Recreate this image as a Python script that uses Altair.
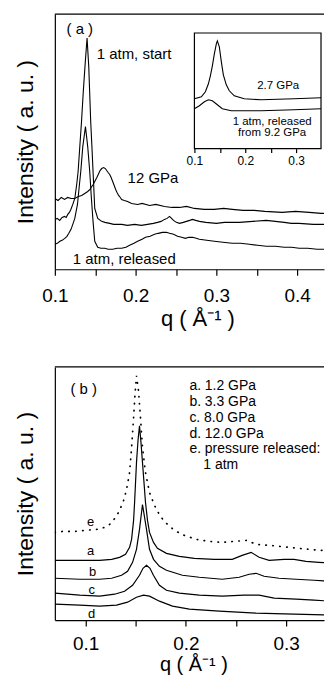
import altair as alt
import pandas as pd

# ---------------- panel (a) : main curves ----------------
A_X_DOMAIN = [0.1, 0.4333]
A_Y_DOMAIN = [0, 256]
A_TICKS = [0.1, 0.15, 0.2, 0.25, 0.3, 0.35, 0.4]

a12_q = [0.100, 0.104, 0.108, 0.112, 0.116, 0.120, 0.1247, 0.129, 0.1333, 0.137,
         0.1407, 0.1435, 0.1457, 0.1475, 0.1494, 0.152, 0.1543, 0.156, 0.158, 0.1605,
         0.1625, 0.1642, 0.166, 0.1679, 0.1697, 0.1716, 0.1735, 0.1753, 0.177, 0.179,
         0.181, 0.1827, 0.186, 0.1901, 0.195, 0.2025, 0.208, 0.2173, 0.225, 0.2358,
         0.245, 0.2543, 0.263, 0.2728, 0.285, 0.2975, 0.309, 0.3198, 0.333, 0.3469,
         0.36, 0.3815, 0.398, 0.4148, 0.43, 0.4432]
a12_i = [71, 69, 72, 70, 72, 71, 71, 73, 74, 76,
         78, 80, 83, 85, 88, 92, 96, 99, 101, 102,
         101, 99, 97, 95, 92, 88, 84, 80, 77, 74,
         72, 70, 69, 68, 66, 65, 66, 64, 65, 63,
         62, 62, 63, 61, 60, 60, 61, 60, 59, 59,
         58, 57, 58, 57, 56, 56]

astart_q = [0.100, 0.103, 0.106, 0.109, 0.112, 0.114, 0.116, 0.118, 0.1198, 0.1222,
            0.1247, 0.1272, 0.1288, 0.1309, 0.133, 0.1352, 0.1377, 0.1399, 0.142, 0.1444,
            0.1459, 0.1473, 0.1494, 0.1531, 0.158, 0.162, 0.1679, 0.173, 0.1827, 0.19,
            0.1988, 0.207, 0.2148, 0.222, 0.2272, 0.2315, 0.2358, 0.239, 0.242, 0.2445,
            0.2469, 0.2505, 0.2543, 0.259, 0.263, 0.267, 0.2704, 0.2745, 0.279, 0.287,
            0.3, 0.31, 0.3284, 0.345, 0.3617, 0.373, 0.384, 0.393, 0.4025, 0.42,
            0.4432]
astart_i = [50, 51, 49, 52, 53, 52, 55, 57, 60, 65,
            71, 86, 98, 123, 148, 178, 208, 232, 203, 148,
            123, 98, 61, 51, 48, 47, 46, 45, 45, 44,
            45, 44, 45, 46, 47, 48, 50, 51, 53, 51,
            49, 47, 46, 47, 48, 49, 50, 49, 48, 47,
            46, 47, 47, 48, 49, 48, 47, 46, 46, 45,
            45]

arel_q = [0.100, 0.103, 0.1062, 0.109, 0.1123, 0.115, 0.1173, 0.120, 0.1222, 0.1247,
          0.128, 0.1302, 0.1321, 0.1346, 0.1379, 0.1407, 0.1432, 0.1451, 0.1473, 0.1494,
          0.1531, 0.157, 0.1617, 0.166, 0.1716, 0.177, 0.1827, 0.188, 0.1926, 0.198,
          0.2025, 0.208, 0.2123, 0.218, 0.2235, 0.228, 0.2333, 0.238, 0.242, 0.247,
          0.2519, 0.257, 0.2617, 0.266, 0.2704, 0.275, 0.279, 0.288, 0.2975, 0.308,
          0.3198, 0.33, 0.3407, 0.351, 0.3617, 0.373, 0.384, 0.393, 0.4025, 0.413,
          0.4247, 0.435, 0.4432]
arel_i = [25, 26, 28, 29, 31, 33, 36, 40, 45, 51,
          65, 83, 98, 123, 143, 123, 98, 73, 48, 28,
          22, 21, 21, 20, 20, 21, 21, 22, 24, 26,
          28, 30, 32, 33, 35, 36, 37, 37, 36, 35,
          33, 32, 31, 32, 32, 31, 30, 29, 28, 27,
          26, 26, 25, 24, 23, 23, 22, 22, 21, 21,
          20, 20, 19]

# ---------------- panel (a) : inset ----------------
IN_X_DOMAIN = [0.1, 0.349]
IN_Y_DOMAIN = [0, 116]
IN_TICKS = [0.1, 0.15, 0.2, 0.25, 0.3]

in27_q = [0.100, 0.1137, 0.1216, 0.1275, 0.1314, 0.1353, 0.1392, 0.1431, 0.1451, 0.149,
          0.153, 0.1569, 0.1627, 0.1686, 0.1784, 0.198, 0.2314, 0.2961, 0.349]
in27_i = [50, 52, 57, 65, 73, 83, 95, 105, 108, 102,
          87, 74, 64, 58, 53, 50, 49, 50, 51]
inrel_q = [0.100, 0.1098, 0.1196, 0.1275, 0.1353, 0.1451, 0.1549, 0.1725, 0.2314, 0.2961, 0.349]
inrel_i = [40, 43, 47, 49, 48, 44, 40, 38, 38, 39, 40]

# ---------------- panel (b) ----------------
B_X_DOMAIN = [0.0692, 0.3379]
B_Y_DOMAIN = [0, 254]
B_TICKS = [0.1, 0.15, 0.2, 0.25, 0.3]

be_q = [0.0692, 0.0771, 0.0891, 0.099, 0.1109, 0.1189, 0.1239, 0.1299, 0.1338, 0.1378,
        0.1408, 0.1438, 0.1458, 0.1478, 0.1493, 0.1507, 0.1527, 0.1547, 0.1567, 0.1597,
        0.1637, 0.1687, 0.1746, 0.1806, 0.1886, 0.1985, 0.2104, 0.2234, 0.2363, 0.2483,
        0.2612, 0.2701, 0.2831, 0.303, 0.3229, 0.3458]
be_i = [88, 89, 89, 90, 91, 93, 96, 103, 110, 120,
        131, 148, 173, 203, 228, 245, 230, 203, 173, 148,
        128, 115, 104, 97, 90, 85, 81, 79, 78, 79,
        80, 76, 75, 73, 71, 69]

ba_q = [0.0692, 0.094, 0.1139, 0.1259, 0.1338, 0.1398, 0.1438, 0.1458, 0.1478, 0.1488,
        0.1507, 0.1522, 0.1537, 0.1552, 0.1567, 0.1597, 0.1617, 0.1637, 0.1677, 0.1716,
        0.1806, 0.1935, 0.2085, 0.2284, 0.2463, 0.2562, 0.2652, 0.2731, 0.2831, 0.298,
        0.308, 0.3199, 0.3328, 0.3458]
ba_i = [60, 60, 60, 61, 63, 66, 73, 81, 100, 118,
        158, 180, 195, 178, 158, 118, 100, 88, 78, 72,
        67, 64, 62, 61, 61, 65, 68, 63, 60, 61,
        61, 59, 58, 57]

bb_q = [0.0692, 0.094, 0.1139, 0.1259, 0.1358, 0.1418, 0.1468, 0.1507, 0.1537, 0.1567,
        0.1607, 0.1637, 0.1677, 0.1736, 0.1806, 0.1965, 0.2134, 0.2363, 0.2532, 0.2632,
        0.2701, 0.2781, 0.293, 0.31, 0.3279, 0.3458]
bb_i = [42, 41, 41, 42, 45, 49, 58, 71, 91, 116,
        91, 71, 61, 54, 50, 45, 43, 41, 43, 46,
        47, 44, 42, 41, 40, 39]

bc_q = [0.0692, 0.094, 0.1139, 0.1289, 0.1388, 0.1468, 0.1537, 0.1572, 0.1607, 0.1642,
        0.1676, 0.1736, 0.1806, 0.1935, 0.2134, 0.2363, 0.2582, 0.2731, 0.2881, 0.31,
        0.3279, 0.3458]
bc_i = [27, 25, 24, 26, 29, 35, 45, 52, 55, 52,
        45, 35, 30, 27, 25, 24, 25, 25, 22, 21,
        20, 19]

bd_q = [0.0692, 0.094, 0.1139, 0.1308, 0.1418, 0.1507, 0.1577, 0.1637, 0.1736, 0.1866,
        0.2035, 0.2333, 0.2701, 0.308, 0.3458]
bd_i = [16, 15, 14, 15, 18, 23, 25, 24, 19, 14,
        11, 9, 7, 6, 5]

# ---------------- labels ----------------
a_lbl_left_t = ["1 atm, start", "12 GPa", "1 atm, released"]
a_lbl_left_q = [0.1519, 0.1901, 0.1222]
a_lbl_left_i = [216, 91, 10]
a_tag = ["( a )"]; a_tag_q = [0.1309]; a_tag_i = [241]

in_lbl_t = ["2.7 GPa", "1 atm, released", "from 9.2 GPa"]
in_lbl_q = [0.2647, 0.2529, 0.2529]
in_lbl_i = [63, 27, 16]

b_leg_t = ["a. 1.2 GPa", "b. 3.3 GPa", "c. 8.0 GPa", "d. 12.0 GPa",
           "e. pressure released:", "1 atm"]
b_leg_q = [0.2035, 0.2035, 0.2035, 0.2035, 0.2035, 0.2174]
b_leg_i = [235, 219, 203, 187, 172, 156]
b_tag = ["( b )"]; b_tag_q = [0.098]; b_tag_i = [232]
b_cur_t = ["e", "a", "b", "c", "d"]
b_cur_q = [0.105, 0.105, 0.107, 0.106, 0.106]
b_cur_i = [98, 69, 48, 30, 6]

W = 270
HA = 256
HB = 254
LBL = "abs(datum.value*10 - round(datum.value*10)) < 0.001 ? format(datum.value, '.1f') : ''"
XTITLE = "q ( \u00c5\u207b\u00b9 )"
YTITLE = "Intensity ( a. u. )"


def frame(qs, vals, name):
    return pd.DataFrame({"q": qs, "I": vals, "s": name})


def xenc(domain, ticks, label_pad, title_pad, title_size, title_x):
    return alt.X("q:Q", scale=alt.Scale(domain=domain, nice=False, zero=False),
                 axis=alt.Axis(values=ticks, labelExpr=LBL, title=XTITLE, tickSize=6,
                               labelPadding=label_pad, labelFontSize=19,
                               titleFontSize=title_size, titlePadding=title_pad,
                               titleX=title_x, grid=False, labelFlush=False))


def yenc(domain):
    return alt.Y("I:Q", scale=alt.Scale(domain=domain, nice=False, zero=False),
                 axis=alt.Axis(labels=False, ticks=False, title=YTITLE, titleFontSize=23,
                               titlePadding=17, grid=False))


def texts(ts, qs, vals, x, y, **kw):
    d = pd.DataFrame({"q": qs, "I": vals, "t": ts})
    return alt.Chart(d).mark_text(color="black", **kw).encode(x=x, y=y, text="t:N")


def top_rule(xdom, ydom, x, y):
    d = pd.DataFrame({"q": [xdom[0]], "q2": [xdom[1]], "I": [ydom[1]]})
    return alt.Chart(d).mark_rule(color="black", strokeWidth=1.2).encode(x=x, x2="q2:Q", y=y)


# ---- panel (a) ----
xa = xenc(A_X_DOMAIN, A_TICKS, 11, 3, 22, 143)
ya = yenc(A_Y_DOMAIN)
df_a = pd.concat([frame(a12_q, a12_i, "12 GPa"), frame(astart_q, astart_i, "start"),
                  frame(arel_q, arel_i, "released")])
lines_a = alt.Chart(df_a).mark_line(color="black", strokeWidth=1.1, clip=True).encode(
    x=xa, y=ya, detail="s:N")
main_a = alt.layer(
    top_rule(A_X_DOMAIN, A_Y_DOMAIN, xa, ya),
    lines_a,
    texts(a_lbl_left_t, a_lbl_left_q, a_lbl_left_i, xa, ya, align="left", baseline="middle", fontSize=15),
    texts(a_tag, a_tag_q, a_tag_i, xa, ya, align="center", baseline="middle", fontSize=15),
)

xi = alt.X("q:Q", scale=alt.Scale(domain=IN_X_DOMAIN, range=[140, 267], nice=False, zero=False),
           axis=alt.Axis(orient="bottom", offset=-121, values=IN_TICKS, labelExpr=LBL,
                         tickSize=4, labelPadding=3, labelFontSize=12, title=None,
                         grid=False, domain=False, labelFlush=False))
yi = alt.Y("I:Q", scale=alt.Scale(domain=IN_Y_DOMAIN, range=[135, 19], nice=False, zero=False),
           axis=None)
in_box = alt.Chart(pd.DataFrame({"q": [IN_X_DOMAIN[0]], "q2": [IN_X_DOMAIN[1]],
                                 "I": [IN_Y_DOMAIN[0]], "I2": [IN_Y_DOMAIN[1]]})).mark_rect(
    fill="white", stroke="black", strokeWidth=1.2).encode(x=xi, x2="q2:Q", y=yi, y2="I2:Q")
df_in = pd.concat([frame(in27_q, in27_i, "2.7"), frame(inrel_q, inrel_i, "rel")])
in_lines = alt.Chart(df_in).mark_line(color="black", strokeWidth=1.1).encode(x=xi, y=yi, detail="s:N")
inset = alt.layer(in_box, in_lines,
                  texts(in_lbl_t, in_lbl_q, in_lbl_i, xi, yi, align="center", baseline="middle", fontSize=11.5))

panel_a = alt.layer(main_a, inset).resolve_scale(x="independent", y="independent").properties(
    width=W, height=HA)

# ---- panel (b) ----
xb = xenc(B_X_DOMAIN, B_TICKS, 8, 2, 20, 139)
yb = yenc(B_Y_DOMAIN)
df_b = pd.concat([frame(ba_q, ba_i, "a"), frame(bb_q, bb_i, "b"),
                  frame(bc_q, bc_i, "c"), frame(bd_q, bd_i, "d")])
lines_b = alt.Chart(df_b).mark_line(color="black", strokeWidth=1.2, clip=True).encode(
    x=xb, y=yb, detail="s:N")
line_e = alt.Chart(frame(be_q, be_i, "e")).mark_line(
    color="black", strokeWidth=1.7, strokeDash=[0.5, 6.5], strokeCap="round", clip=True).encode(x=xb, y=yb)
panel_b = alt.layer(
    top_rule(B_X_DOMAIN, B_Y_DOMAIN, xb, yb),
    lines_b, line_e,
    texts(b_leg_t, b_leg_q, b_leg_i, xb, yb, align="left", baseline="middle", fontSize=14),
    texts(b_tag, b_tag_q, b_tag_i, xb, yb, align="center", baseline="middle", fontSize=15),
    texts(b_cur_t, b_cur_q, b_cur_i, xb, yb, align="center", baseline="middle", fontSize=13),
).properties(width=W, height=HB)

chart = alt.vconcat(panel_a, panel_b, spacing=37).properties(
    padding={"left": 7, "top": 4, "right": 0, "bottom": -1}
).configure(font="Liberation Sans").configure_view(stroke=None).configure_axis(
    domainColor="black", tickColor="black", labelColor="black", titleColor="black",
    titleFontWeight="normal", domainWidth=1.2, tickWidth=1.2
)

chart.save("out.html", embed_options={"renderer": "svg", "actions": False})
